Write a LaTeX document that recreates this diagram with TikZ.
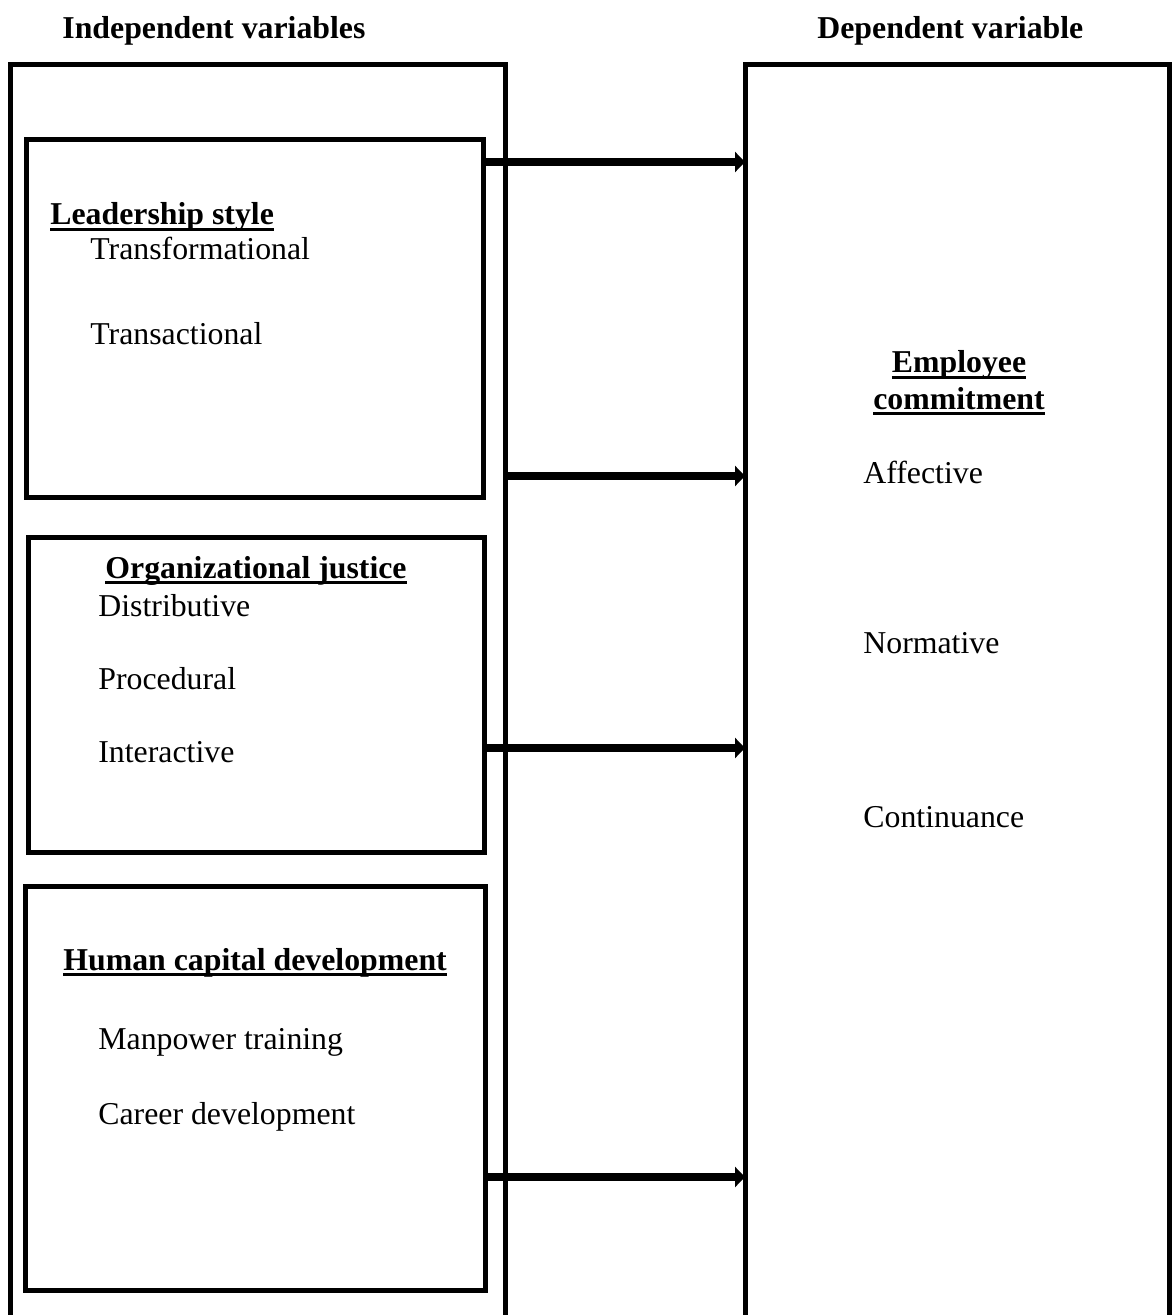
\documentclass[tikz,border=0pt]{standalone}
\usepackage{fontspec}
\setmainfont{Liberation Serif}
\usetikzlibrary{arrows.meta}
\newcommand\myul[1]{\setbox0\hbox{#1}\rlap{\rule[-0.2em]{\wd0}{0.1em}}\box0}
\begin{document}
\begin{tikzpicture}[x=0.5pt,y=-0.5pt,
  font=\fontsize{15.9}{18}\selectfont,
  frame/.style={draw, line width=2.5pt, rectangle, inner sep=0pt, outer sep=0pt, anchor=north west},
  lbl/.style={anchor=base west, inner sep=0pt},
  arr/.style={line width=4.2pt, -{Triangle[length=5pt,width=10pt]}}]
\useasboundingbox (0,0) rectangle (1172,1315);
\clip (0,0) rectangle (1172,1315);
% outer frames
\node[frame, minimum width=247.5pt, minimum height=637.5pt] (iv) at (10,65) {};
\node[frame, minimum width=212pt, minimum height=637.5pt] (dv) at (745,65) {};
% inner boxes
\node[frame, minimum width=228.5pt, minimum height=178.5pt] (ls) at (26,140) {};
\node[frame, minimum width=228pt, minimum height=157.5pt] (oj) at (28,537) {};
\node[frame, minimum width=230pt, minimum height=202pt] (hc) at (25,886) {};
% headings
\node[lbl] (hiv) at (62,39) {\bfseries Independent variables};
\node[lbl] (hdv) at (817,39) {\bfseries Dependent variable};
% leadership style
\node[lbl] (t1) at (50,225) {\bfseries\myul{Leadership style}};
\node[lbl] (t1a) at (90,260) {Transformational};
\node[lbl] (t1b) at (90,345) {Transactional};
% organizational justice
\node[lbl] (t2) at (105,578) {\bfseries\myul{Organizational justice}};
\node[lbl] (t2a) at (98,616) {Distributive};
\node[lbl] (t2b) at (98,689) {Procedural};
\node[lbl] (t2c) at (98,762) {Interactive};
% human capital
\node[lbl] (t3) at (63,970) {\bfseries\myul{Human capital development}};
\node[lbl] (t3a) at (98,1049) {Manpower training};
\node[lbl] (t3b) at (98,1124) {Career development};
% dependent
\node[anchor=base, inner sep=0pt] (e1) at (959,373) {\bfseries\myul{Employee}};
\node[anchor=base, inner sep=0pt] (e2) at (959,409) {\bfseries\myul{commitment}};
\node[lbl] (ea) at (863,483) {Affective};
\node[lbl] (eb) at (863,653) {Normative};
\node[lbl] (ec) at (863,827) {Continuance};
% arrows
\coordinate (a1) at (0,162);
\coordinate (a2) at (0,476);
\coordinate (a3) at (0,748);
\coordinate (a4) at (0,1177);
\draw[arr] (ls.east |- a1) -- (dv.west |- a1);
\draw[arr] (iv.east |- a2) -- (dv.west |- a2);
\draw[arr] (oj.east |- a3) -- (dv.west |- a3);
\draw[arr] (hc.east |- a4) -- (dv.west |- a4);
\end{tikzpicture}
\end{document}
